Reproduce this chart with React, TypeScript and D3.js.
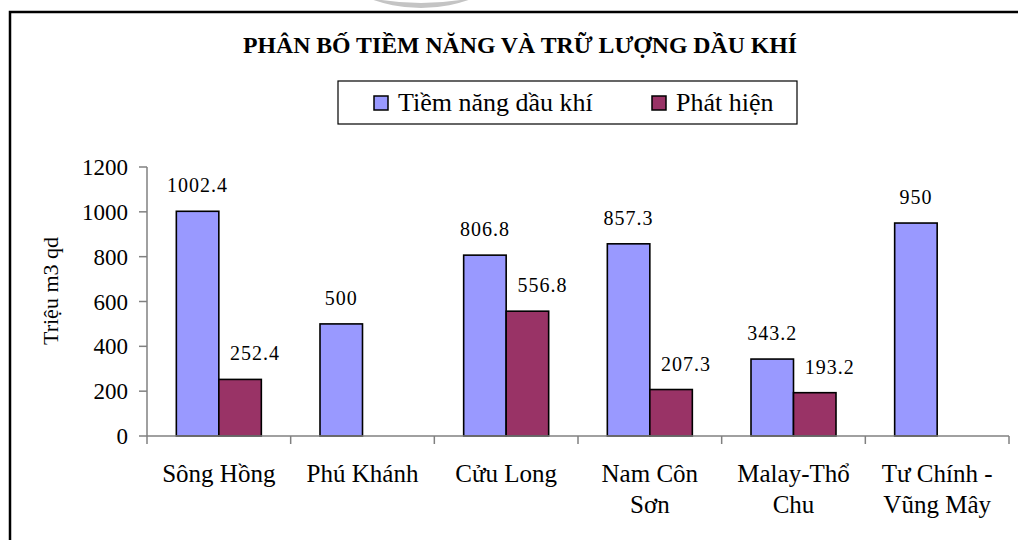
import React from "react";
import * as d3 from "d3";

const title = "PHÂN BỐ TIỀM NĂNG VÀ TRỮ LƯỢNG DẦU KHÍ";
const yAxisTitle = "Triệu m3 qd";
const categories = ["Sông Hồng", "Phú Khánh", "Cửu Long", "Nam Côn\nSơn", "Malay-Thổ\nChu", "Tư Chính -\nVũng Mây"];
const seriesNames = ["Tiềm năng dầu khí", "Phát hiện"];
const tiemNang: (number | null)[] = [1002.4, 500, 806.8, 857.3, 343.2, 950];
const phatHien: (number | null)[] = [252.4, null, 556.8, 207.3, 193.2, null];
const yTicks = [0, 200, 400, 600, 800, 1000, 1200];

const seriesColors = ["#9999FF", "#993366"];
const FONT = "'Liberation Serif', 'Times New Roman', serif";
const tstyle = { fontFamily: FONT } as React.CSSProperties;

export default function App() {
  const W = 1018, H = 540;
  const left = 147, right = 1009, top = 167, bottom = 436;
  const x = d3.scaleBand<string>().domain(categories).range([left, right]).paddingInner(0).paddingOuter(0);
  const y = d3.scaleLinear().domain([0, 1200]).range([bottom, top]);
  const band = x.bandwidth();
  const barW = 42.5;
  const off = (band - 2 * barW) / 2;
  const inner = d3.scaleBand<number>().domain([0, 1]).range([off, off + 2 * barW]);
  const series = [tiemNang, phatHien];
  const labelDx = [0, 15];
  const boundaries = d3.range(categories.length + 1).map((i) => left + i * band);

  return (
    <svg width={W} height={H} style={{ position: "absolute", left: 0, top: 0, background: "#fff", fontFamily: FONT }}>
      {/* watermark remnant */}
      <circle cx={421} cy={-137} r={145} fill="#c4c4c4" />
      <circle cx={421} cy={-258} r={261} fill="#fff" />
      {/* outer border */}
      <rect x={10} y={12} width={1040} height={560} fill="none" stroke="#000" strokeWidth={2.5} />
      {/* title */}
      <text x={520} y={53} textAnchor="middle" fontSize={24} fontWeight="bold" textLength={554} lengthAdjust="spacingAndGlyphs" style={tstyle}>{title}</text>
      {/* legend */}
      <rect x={338} y={81} width={459} height={43} fill="#fff" stroke="#000" strokeWidth={1.2} />
      {seriesNames.map((name, i) => {
        const lx = i === 0 ? 374 : 652;
        return (
          <g key={name}>
            <rect x={lx} y={96} width={14} height={14} fill={seriesColors[i]} stroke="#000" strokeWidth={1.5} />
            <text x={lx + 24} y={111} fontSize={26} style={tstyle}>{name}</text>
          </g>
        );
      })}
      {/* y axis title */}
      <text transform={`translate(58,291) rotate(-90)`} textAnchor="middle" fontSize={22} style={tstyle}>{yAxisTitle}</text>
      {/* bars */}
      {series.map((vals, s) =>
        vals.map((v, i) => {
          if (v == null) return null;
          const bx = (x(categories[i]) as number) + (inner(s) as number);
          return (
            <rect key={`b${s}-${i}`} x={bx} y={y(v)} width={barW} height={bottom - y(v)} fill={seriesColors[s]} stroke="#000" strokeWidth={1.6} />
          );
        })
      )}
      {/* axes */}
      <line x1={left} x2={left} y1={top} y2={bottom} stroke="#808080" strokeWidth={1.5} />
      {yTicks.map((t) => (
        <g key={`yt${t}`}>
          <line x1={left - 8} x2={left} y1={y(t)} y2={y(t)} stroke="#808080" strokeWidth={1.5} />
          <text x={left - 19} y={y(t) + 8} textAnchor="end" fontSize={23} style={tstyle}>{t}</text>
        </g>
      ))}
      <line x1={left} x2={right} y1={bottom} y2={bottom} stroke="#808080" strokeWidth={1.5} />
      {boundaries.map((bx, i) => (
        <line key={`xt${i}`} x1={bx} x2={bx} y1={bottom} y2={bottom + 8} stroke="#808080" strokeWidth={1.5} />
      ))}
      {/* category labels */}
      {categories.map((c) => {
        const cx = (x(c) as number) + band / 2;
        return (
          <text key={c} x={cx} y={482} textAnchor="middle" fontSize={25} style={tstyle}>
            {c.split("\n").map((line, li) => (
              <tspan key={li} x={cx} dy={li === 0 ? 0 : 31}>{line}</tspan>
            ))}
          </text>
        );
      })}
      {/* data labels */}
      {series.map((vals, s) =>
        vals.map((v, i) => {
          if (v == null) return null;
          const cx = (x(categories[i]) as number) + (inner(s) as number) + barW / 2 + labelDx[s];
          return (
            <text key={`l${s}-${i}`} x={cx} y={y(v) - 19} textAnchor="middle" fontSize={20} letterSpacing={1} style={tstyle}>{String(v)}</text>
          );
        })
      )}
    </svg>
  );
}
